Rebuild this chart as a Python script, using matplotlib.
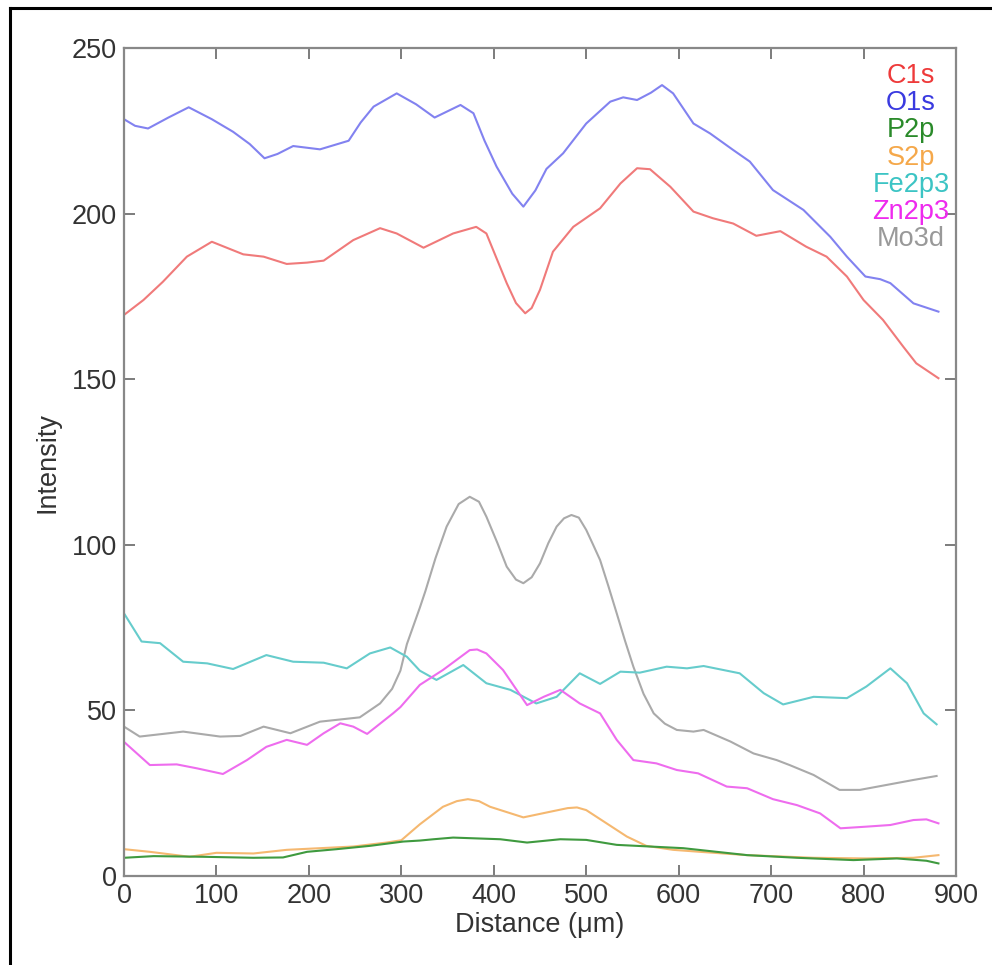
import matplotlib
matplotlib.use("Agg")
import matplotlib.pyplot as plt
from matplotlib.lines import Line2D

plt.rcParams['font.family'] = ['Liberation Sans', 'DejaVu Sans']

# ---- data ----
c1s_x = [0, 21, 42, 68, 95, 129, 151, 176, 198, 216, 248, 277, 295, 324, 356, 381, 392, 414, 424, 434, 441, 450, 464, 486, 515, 537, 555, 569, 591, 616, 637, 659, 684, 710, 738, 760, 782, 800, 821, 843, 857, 881]
c1s_y = [169.4, 173.9, 179.4, 187, 191.5, 187.7, 187, 184.8, 185.2, 185.8, 192, 195.6, 194, 189.7, 194, 196, 194, 179, 173, 169.9, 171.5, 177, 188.5, 196, 201.6, 209.1, 213.7, 213.4, 208.1, 200.6, 198.6, 197, 193.3, 194.7, 190, 187, 181, 173.9, 167.9, 159.8, 154.8, 150.3]

o1s_x = [0, 12, 26, 48, 70, 95, 118, 136, 152, 166, 183, 212, 243, 256, 270, 295, 316, 336, 364, 378, 390, 403, 420, 432, 445, 457, 475, 500, 526, 540, 555, 570, 582, 594, 616, 634, 659, 677, 702, 735, 764, 782, 802, 818, 829, 854, 881]
o1s_y = [228.5, 226.5, 225.7, 229, 232.1, 228.5, 224.7, 221, 216.7, 218, 220.4, 219.4, 222, 227.5, 232.3, 236.3, 233, 229, 232.8, 230.3, 222, 214.2, 206, 202.1, 207, 213.5, 218.2, 227.2, 233.8, 235.1, 234.3, 236.5, 238.8, 236.3, 227.2, 224.2, 219.2, 215.7, 207.1, 201.1, 193, 187, 181, 180.2, 179, 172.9, 170.4]

p2p_x = [0, 32, 86, 140, 172, 198, 230, 266, 302, 320, 335, 356, 407, 436, 472, 500, 533, 569, 605, 674, 728, 789, 836, 868, 881]
p2p_y = [5.5, 6, 5.8, 5.5, 5.6, 7.3, 8.1, 9.1, 10.4, 10.7, 11.1, 11.6, 11.1, 10.1, 11.1, 10.9, 9.4, 8.9, 8.4, 6.3, 5.5, 4.8, 5.3, 4.6, 3.8]

s2p_x = [0, 28, 71, 100, 140, 176, 212, 248, 284, 300, 320, 345, 360, 372, 384, 396, 432, 461, 480, 490, 500, 522, 544, 565, 594, 623, 674, 746, 803, 854, 881]
s2p_y = [8.1, 7.3, 5.8, 7, 6.8, 7.9, 8.4, 8.9, 10.1, 10.8, 15.6, 20.9, 22.6, 23.2, 22.6, 20.9, 17.7, 19.4, 20.5, 20.7, 19.9, 15.9, 11.9, 9.1, 7.9, 7.3, 6.3, 5.5, 5.3, 5.5, 6.3]

fe_x = [0, 19, 39, 64, 90, 118, 154, 183, 216, 241, 266, 288, 306, 320, 338, 367, 392, 418, 446, 468, 493, 515, 537, 558, 587, 609, 627, 666, 692, 713, 746, 782, 803, 829, 847, 865, 879]
fe_y = [79.3, 70.8, 70.3, 64.7, 64.2, 62.5, 66.7, 64.7, 64.4, 62.7, 67.2, 69, 66.2, 62, 59.2, 63.7, 58.2, 56.2, 52.1, 54.1, 61.2, 58, 61.7, 61.4, 63.2, 62.7, 63.4, 61.2, 55.2, 51.8, 54.1, 53.7, 57.2, 62.7, 58.2, 49.1, 45.8]

zn_x = [0, 28, 57, 79, 107, 133, 154, 176, 198, 216, 234, 248, 263, 291, 299, 320, 345, 374, 382, 392, 410, 436, 454, 472, 493, 515, 533, 551, 576, 598, 621, 652, 674, 702, 728, 753, 775, 803, 829, 854, 868, 881]
zn_y = [40.5, 33.5, 33.7, 32.5, 30.8, 35, 39, 41.1, 39.6, 43.1, 46.1, 45.1, 42.9, 49.1, 51, 57.7, 62.2, 68.2, 68.4, 67.2, 62.2, 51.6, 54.1, 56.2, 52.1, 49.1, 41.1, 35, 34, 32, 31, 27, 26.5, 23.2, 21.4, 18.9, 14.4, 14.9, 15.4, 16.9, 17.1, 15.9]

mo_x = [0, 17, 64, 104, 126, 151, 180, 212, 255, 277, 290, 299, 306, 320, 326, 337, 349, 362, 374, 384, 392, 404, 414, 424, 432, 441, 450, 459, 468, 476, 484, 492, 500, 507, 515, 524, 533, 542, 551, 562, 573, 585, 598, 616, 627, 656, 681, 706, 720, 746, 774, 796, 825, 854, 879]
mo_y = [45.1, 42.1, 43.6, 42.1, 42.3, 45.1, 43.1, 46.6, 47.9, 52.1, 56.5, 62, 70, 81, 86, 96, 105.5, 112.3, 114.5, 113, 108.5, 100.5, 93.4, 89.5, 88.4, 90.2, 94.4, 100.5, 105.5, 108, 109, 108.2, 104.5, 100.3, 95.4, 87.5, 79.3, 71, 63.2, 55, 49.1, 46, 44.1, 43.6, 44.1, 40.6, 37, 35, 33.5, 30.5, 26, 26, 27.5, 29, 30.2]

labels = ['C1s', 'O1s', 'P2p', 'S2p', 'Fe2p3', 'Zn2p3', 'Mo3d']
line_colors = ['#f07a7a', '#8282f0', '#3f9a3f', '#f5b870', '#66cccc', '#ee6cee', '#aaaaaa']
text_colors = ['#ee3a3a', '#3a3ae0', '#2a8a2a', '#f5a84a', '#3cc4c4', '#ee2aee', '#999999']
xticks = [0, 100, 200, 300, 400, 500, 600, 700, 800, 900]
yticks = [0, 50, 100, 150, 200, 250]

series = [(c1s_x, c1s_y), (o1s_x, o1s_y), (p2p_x, p2p_y), (s2p_x, s2p_y),
          (fe_x, fe_y), (zn_x, zn_y), (mo_x, mo_y)]

FS = 19.5

fig = plt.figure(figsize=(9.92, 9.65), dpi=100)
ax = fig.add_axes([124/992, 1 - 876/965, (956-124)/992, (876-48)/965])

draw_order = [6, 4, 5, 3, 2, 0, 1]
for i in draw_order:
    xs, ys = series[i]
    ax.plot(xs, ys, color=line_colors[i], lw=1.5, solid_joinstyle='round')

ax.set_xlim(0, 900)
ax.set_ylim(0, 250)
ax.set_xticks(xticks)
ax.set_yticks(yticks)
ax.tick_params(direction='in', length=8, width=1.2, color='#666666',
               top=True, right=True, labelsize=FS, labelcolor='#333333', pad=5)
for s in ax.spines.values():
    s.set_color('#888888')
    s.set_linewidth(1.6)

ax.set_xlabel('Distance (μm)', fontsize=FS, color='#333333', labelpad=2)
ax.set_ylabel('Intensity', fontsize=FS, color='#333333', labelpad=8)

# legend as coloured text
for k, (lab, col) in enumerate(zip(labels, text_colors)):
    fig.text(911/992, 1 - (76 + 27.2*k)/965, lab, color=col, fontsize=FS,
             ha='center', va='center')

# outer frame (top and left lines)
fig.add_artist(Line2D([10/992, 1], [1 - 8/965, 1 - 8/965], color='black', lw=2.2,
                      transform=fig.transFigure))
fig.add_artist(Line2D([10/992, 10/992], [0, 1 - 8/965], color='black', lw=2.2,
                      transform=fig.transFigure))

fig.savefig('out.png', dpi=100)
